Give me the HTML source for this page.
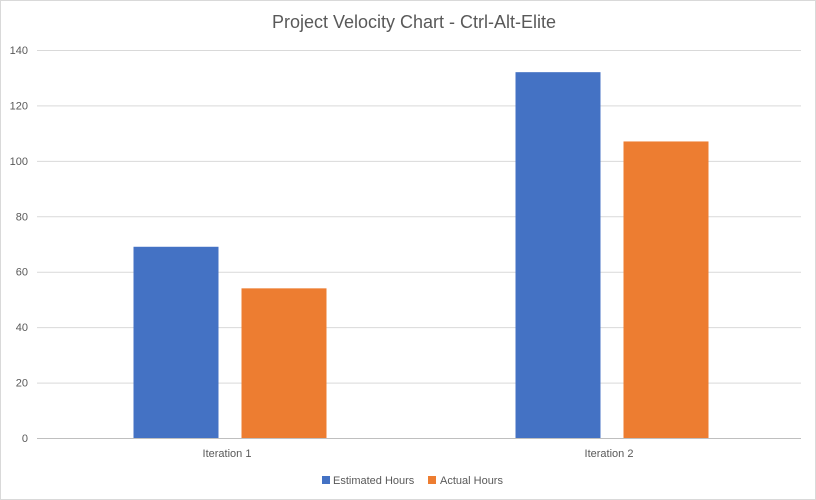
<!DOCTYPE html>
<html><head><meta charset="utf-8"><style>
body{margin:0;background:#fff;}
svg{display:block;font-family:"Liberation Sans",Calibri,sans-serif;}
</style></head><body>
<svg id="chart" width="816" height="500">
<rect x="0.5" y="0.5" width="815" height="499" fill="#fff" stroke="#d9d9d9"/>
<text x="414" y="28" text-anchor="middle" font-size="18" fill="#595959">Project Velocity Chart - Ctrl-Alt-Elite</text>
<g id="grid"></g><g id="bars"></g><g id="labels"></g>
<g>
<rect x="322" y="476" width="8" height="8" fill="#4472c4"/>
<text x="333" y="484" font-size="11" fill="#595959">Estimated Hours</text>
<rect x="428" y="476" width="8" height="8" fill="#ed7d31"/>
<text x="440" y="484" font-size="11" fill="#595959">Actual Hours</text>
</g>
</svg>
<script>
const categories=["Iteration 1","Iteration 2"];
const estimated=[69,132];
const actual=[54,107];
const ticks=[0,20,40,60,80,100,120,140];
const ns="http://www.w3.org/2000/svg";
const x0=37,x1=801,yTop=50,yBot=438,maxV=140;
const y=v=>yBot-(v/maxV)*(yBot-yTop);
const cw=(x1-x0)/categories.length;
const grid=document.getElementById('grid'),bars=document.getElementById('bars'),labels=document.getElementById('labels');
function mk(t,a,p){const e=document.createElementNS(ns,t);for(const k in a)e.setAttribute(k,a[k]);p.appendChild(e);return e;}
ticks.forEach(t=>{
  const l=mk('line',{x1:x0,x2:x1,y1:y(t)+0.5,y2:y(t)+0.5,stroke:t===0?'#bfbfbf':'#d9d9d9'},grid);
  
  
  const tx=mk('text',{x:28,y:y(t)+4,'text-anchor':'end','font-size':11,fill:'#595959'},labels);
  tx.textContent=t;
  
  
});
const bw=85,gap=23;
categories.forEach((c,i)=>{
  const cx=x0+cw*(i+0.5)+2;
  const b1=mk('rect',{x:cx-gap/2-bw,y:y(estimated[i]),width:bw,height:yBot-y(estimated[i]),fill:'#4472c4'},bars);
  
  
  const b2=mk('rect',{x:cx+gap/2,y:y(actual[i]),width:bw,height:yBot-y(actual[i]),fill:'#ed7d31'},bars);
  
  
  const t=mk('text',{x:cx-3,y:457,'text-anchor':'middle','font-size':11,fill:'#595959'},labels);
  t.textContent=c;
  
  
});
</script>
</body></html>
